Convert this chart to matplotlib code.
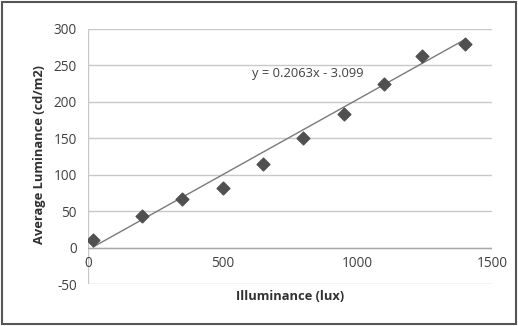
import matplotlib.pyplot as plt
import numpy as np
from matplotlib.patches import Rectangle

# data
illuminance = [20, 200, 350, 500, 650, 800, 950, 1100, 1240, 1400]
luminance = [10, 43, 66, 82, 115, 151, 183, 224, 263, 280]
slope = 0.2063
intercept = -3.099
x_ticks = [0, 500, 1000, 1500]
y_ticks = [-50, 0, 50, 100, 150, 200, 250, 300]

plt.rcParams['font.family'] = ['Open Sans', 'DejaVu Sans']

fig = plt.figure(figsize=(5.18, 3.26), dpi=100)
ax = fig.add_axes([88 / 518, 1 - 284 / 326, (492 - 88) / 518, (284 - 29) / 326])

ax.set_xlim(0, 1500)
ax.set_ylim(-50, 300)

for y in y_ticks:
    ax.axhline(y, color='#c8c8c8', lw=1, zorder=0)
ax.axhline(0, color='#a8a8a8', lw=1, zorder=1)
ax.axvline(0, color='#c8c8c8', lw=1, zorder=0)

for s in ax.spines.values():
    s.set_visible(False)

# trendline
xs = np.array([illuminance[0], illuminance[-1]])
ax.plot(xs, slope * xs + intercept, color='#7a7a7a', lw=1, zorder=2)
ax.scatter(illuminance, luminance, marker='D', s=42, color='#505050', zorder=3)

ax.set_yticks(y_ticks)
ax.set_yticklabels([str(v) for v in y_ticks], fontsize=9.8, color='#404040')
ax.set_xticks([])
for v in x_ticks:
    ax.text(v, -22, str(v), ha='center', va='center', fontsize=9.8, color='#404040')
ax.tick_params(axis='y', length=0, pad=8)

ax.text(0.405, 0.827, 'y = 0.2063x - 3.099', transform=ax.transAxes,
        fontsize=9.3, color='#404040', va='center')

fig.text(290 / 518, 1 - 297 / 326, 'Illuminance (lux)', ha='center', va='center',
         fontsize=9.3, fontweight='bold', color='#303030')
fig.text(40 / 518, 1 - 155 / 326, 'Average Luminance (cd/m2)', ha='center', va='center',
         rotation=90, fontsize=9.3, fontweight='bold', color='#303030')

fig.patches.append(Rectangle((2 / 518, 2 / 326), 514 / 518, 322 / 326, transform=fig.transFigure,
                             fill=False, edgecolor='#555555', lw=1.5))

fig.savefig('out.png', dpi=100)
